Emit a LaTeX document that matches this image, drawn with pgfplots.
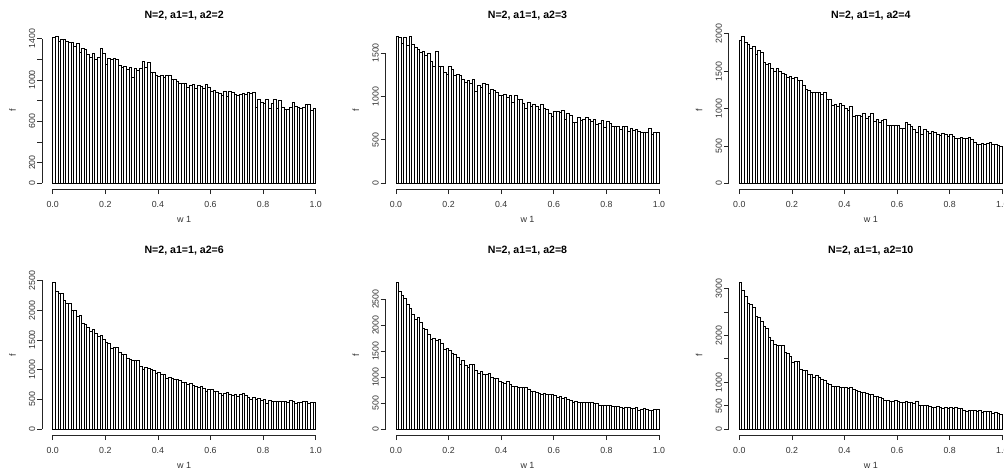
\documentclass[border=0pt]{standalone}
\usepackage{fontspec}
\setmainfont{Liberation Sans}
\usepackage{pgfplots}
\pgfplotsset{compat=1.18}

\pgfplotsset{
  rhist/.style={
    scale only axis, width=284pt, height=158.6pt,
    xmin=-0.04, xmax=1.04,
    axis line style={draw=none},
    tick align=outside, major tick length=5pt,
    xtick pos=left, ytick pos=left,
    tick style={black!85, line width=0.8pt},
    xtick={0,0.2,0.4,0.6,0.8,1},
    xticklabels={0.0,0.2,0.4,0.6,0.8,1.0},
    ticklabel style={font=\fontsize{8.8}{10}\selectfont, text=black!80},
    xticklabel style={anchor=north, inner sep=6.7pt},
    yticklabel style={rotate=90, anchor=south, inner sep=1.7pt},
    xlabel={w 1}, ylabel={f},
    label style={font=\fontsize{9}{10}\selectfont, text=black!80},
    xlabel style={at={(axis description cs:0.5,0)}, anchor=base, yshift=-33.6pt},
    ylabel style={at={([xshift=-26.4pt]axis description cs:0,0.5)}, anchor=base},
    title style={font=\fontsize{10.6}{12}\selectfont\bfseries, at={(axis description cs:0.5,1)}, anchor=base},
    clip=false,
  },
  bars/.style={ybar interval, fill=white, draw=black, line width=0.95pt},
}
\tikzset{rline/.style={black!85, line width=0.8pt}}

\begin{document}
\begin{tikzpicture}
\path[use as bounding box] (0,0) rectangle (1004pt,475pt);

% ---------- Panel 1 ----------
\begin{axis}[rhist, at={(42.2pt,285.8pt)}, anchor=south west,
  ymin=-56.8, ymax=1476.8,
  ytick={0,200,400,600,800,1000,1200,1400},
  yticklabels={0,200,,600,,1000,,1400},
  title={N=2, a1=1, a2=2}, title style={yshift=6.6pt}]
\addplot[bars] coordinates {
(0.00,1410)(0.01,1420)(0.02,1370)(0.03,1390)(0.04,1390)(0.05,1370)(0.06,1365)(0.07,1360)(0.08,1325)(0.09,1350)
(0.10,1270)(0.11,1300)(0.12,1295)(0.13,1245)(0.14,1215)(0.15,1255)(0.16,1200)(0.17,1215)(0.18,1305)(0.19,1255)
(0.20,1150)(0.21,1205)(0.22,1195)(0.23,1205)(0.24,1195)(0.25,1140)(0.26,1125)(0.27,1130)(0.28,1100)(0.29,1125)
(0.30,1025)(0.31,1110)(0.32,1095)(0.33,1110)(0.34,1175)(0.35,1125)(0.36,1170)(0.37,1075)(0.38,1070)(0.39,1040)
(0.40,1035)(0.41,1045)(0.42,1020)(0.43,1045)(0.44,1040)(0.45,1000)(0.46,1005)(0.47,985)(0.48,970)(0.49,965)
(0.50,965)(0.51,925)(0.52,945)(0.53,955)(0.54,920)(0.55,945)(0.56,935)(0.57,920)(0.58,955)(0.59,925)
(0.60,885)(0.61,900)(0.62,875)(0.63,865)(0.64,845)(0.65,885)(0.66,840)(0.67,885)(0.68,875)(0.69,860)
(0.70,845)(0.71,860)(0.72,865)(0.73,855)(0.74,875)(0.75,870)(0.76,880)(0.77,735)(0.78,810)(0.79,780)
(0.80,770)(0.81,810)(0.82,725)(0.83,770)(0.84,815)(0.85,725)(0.86,805)(0.87,730)(0.88,710)(0.89,715)
(0.90,730)(0.91,780)(0.92,745)(0.93,735)(0.94,725)(0.95,735)(0.96,760)(0.97,760)(0.98,705)(0.99,720)
(1.00,720)};
\draw[rline] (axis cs:0,-56.8) -- (axis cs:1,-56.8);
\draw[rline] (axis cs:-0.04,0) -- (axis cs:-0.04,1400);
\end{axis}

% ---------- Panel 2 ----------
\begin{axis}[rhist, at={(385.5pt,285.8pt)}, anchor=south west,
  ymin=-67.6, ymax=1757.6,
  ytick={0,500,1000,1500},
  yticklabels={0,500,1000,1500},
  title={N=2, a1=1, a2=3}, title style={yshift=6.6pt}]
\addplot[bars] coordinates {
(0.00,1685)(0.01,1675)(0.02,1610)(0.03,1675)(0.04,1590)(0.05,1690)(0.06,1600)(0.07,1560)(0.08,1540)(0.09,1510)
(0.10,1520)(0.11,1470)(0.12,1490)(0.13,1400)(0.14,1340)(0.15,1520)(0.16,1340)(0.17,1340)(0.18,1280)(0.19,1250)
(0.20,1350)(0.21,1310)(0.22,1240)(0.23,1250)(0.24,1240)(0.25,1200)(0.26,1160)(0.27,1180)(0.28,1150)(0.29,1190)
(0.30,1060)(0.31,1130)(0.32,1100)(0.33,1150)(0.34,1140)(0.35,1030)(0.36,1080)(0.37,1070)(0.38,1040)(0.39,1010)
(0.40,1010)(0.41,1020)(0.42,990)(0.43,1010)(0.44,930)(0.45,1010)(0.46,960)(0.47,970)(0.48,920)(0.49,860)
(0.50,930)(0.51,880)(0.52,910)(0.53,880)(0.54,850)(0.55,910)(0.56,860)(0.57,850)(0.58,800)(0.59,770)
(0.60,830)(0.61,830)(0.62,810)(0.63,840)(0.64,730)(0.65,800)(0.66,780)(0.67,700)(0.68,700)(0.69,760)
(0.70,720)(0.71,740)(0.72,760)(0.73,740)(0.74,710)(0.75,730)(0.76,680)(0.77,690)(0.78,720)(0.79,640)
(0.80,710)(0.81,690)(0.82,660)(0.83,660)(0.84,660)(0.85,620)(0.86,650)(0.87,660)(0.88,600)(0.89,630)
(0.90,610)(0.91,620)(0.92,600)(0.93,580)(0.94,580)(0.95,580)(0.96,630)(0.97,560)(0.98,580)(0.99,580)
(1.00,580)};
\draw[rline] (axis cs:0,-67.6) -- (axis cs:1,-67.6);
\draw[rline] (axis cs:-0.04,0) -- (axis cs:-0.04,1500);
\end{axis}

% ---------- Panel 3 ----------
\begin{axis}[rhist, at={(728.8pt,285.8pt)}, anchor=south west,
  ymin=-78.6, ymax=2043.6,
  ytick={0,500,1000,1500,2000},
  yticklabels={0,500,1000,1500,2000},
  title={N=2, a1=1, a2=4}, title style={yshift=6.6pt}]
\addplot[bars] coordinates {
(0.00,1910)(0.01,1965)(0.02,1885)(0.03,1860)(0.04,1810)(0.05,1830)(0.06,1720)(0.07,1780)(0.08,1750)(0.09,1620)
(0.10,1590)(0.11,1600)(0.12,1540)(0.13,1500)(0.14,1540)(0.15,1500)(0.16,1470)(0.17,1450)(0.18,1420)(0.19,1430)
(0.20,1400)(0.21,1420)(0.22,1380)(0.23,1370)(0.24,1310)(0.25,1250)(0.26,1240)(0.27,1220)(0.28,1220)(0.29,1220)
(0.30,1210)(0.31,1190)(0.32,1210)(0.33,1120)(0.34,1120)(0.35,1040)(0.36,1050)(0.37,1030)(0.38,1065)(0.39,1040)
(0.40,1000)(0.41,980)(0.42,1025)(0.43,900)(0.44,910)(0.45,910)(0.46,900)(0.47,935)(0.48,870)(0.49,890)
(0.50,940)(0.51,830)(0.52,850)(0.53,810)(0.54,840)(0.55,850)(0.56,780)(0.57,780)(0.58,770)(0.59,780)
(0.60,780)(0.61,740)(0.62,730)(0.63,820)(0.64,790)(0.65,760)(0.66,720)(0.67,680)(0.68,760)(0.69,660)
(0.70,720)(0.71,700)(0.72,670)(0.73,700)(0.74,680)(0.75,660)(0.76,640)(0.77,670)(0.78,660)(0.79,630)
(0.80,650)(0.81,630)(0.82,600)(0.83,600)(0.84,610)(0.85,600)(0.86,600)(0.87,610)(0.88,590)(0.89,550)
(0.90,520)(0.91,520)(0.92,530)(0.93,520)(0.94,530)(0.95,540)(0.96,520)(0.97,520)(0.98,510)(0.99,490)
(1.00,490)};
\draw[rline] (axis cs:0,-78.6) -- (axis cs:1,-78.6);
\draw[rline] (axis cs:-0.04,0) -- (axis cs:-0.04,2000);
\end{axis}

% ---------- Panel 4 ----------
\begin{axis}[rhist, at={(42.2pt,40pt)}, anchor=south west,
  ymin=-98.8, ymax=2568.8,
  ytick={0,500,1000,1500,2000,2500},
  yticklabels={0,500,1000,1500,2000,2500},
  title={N=2, a1=1, a2=6}, title style={yshift=16.8pt}]
\addplot[bars] coordinates {
(0.00,2470)(0.01,2320)(0.02,2280)(0.03,2290)(0.04,2160)(0.05,2110)(0.06,2110)(0.07,1990)(0.08,1990)(0.09,1900)
(0.10,1910)(0.11,1770)(0.12,1760)(0.13,1710)(0.14,1640)(0.15,1680)(0.16,1610)(0.17,1550)(0.18,1580)(0.19,1500)
(0.20,1460)(0.21,1440)(0.22,1360)(0.23,1370)(0.24,1380)(0.25,1290)(0.26,1250)(0.27,1260)(0.28,1180)(0.29,1170)
(0.30,1150)(0.31,1150)(0.32,1150)(0.33,1060)(0.34,1000)(0.35,1030)(0.36,1020)(0.37,1000)(0.38,990)(0.39,940)
(0.40,960)(0.41,920)(0.42,920)(0.43,860)(0.44,870)(0.45,860)(0.46,830)(0.47,840)(0.48,820)(0.49,780)
(0.50,790)(0.51,750)(0.52,760)(0.53,740)(0.54,720)(0.55,700)(0.56,710)(0.57,680)(0.58,640)(0.59,670)
(0.60,660)(0.61,630)(0.62,630)(0.63,600)(0.64,560)(0.65,600)(0.66,620)(0.67,590)(0.68,560)(0.69,590)
(0.70,550)(0.71,580)(0.72,600)(0.73,570)(0.74,530)(0.75,500)(0.76,540)(0.77,500)(0.78,510)(0.79,490)
(0.80,500)(0.81,430)(0.82,480)(0.83,470)(0.84,460)(0.85,460)(0.86,460)(0.87,460)(0.88,470)(0.89,450)
(0.90,480)(0.91,460)(0.92,430)(0.93,440)(0.94,450)(0.95,460)(0.96,470)(0.97,430)(0.98,440)(0.99,450)
(1.00,450)};
\draw[rline] (axis cs:0,-98.8) -- (axis cs:1,-98.8);
\draw[rline] (axis cs:-0.04,0) -- (axis cs:-0.04,2500);
\end{axis}

% ---------- Panel 5 ----------
\begin{axis}[rhist, at={(385.5pt,40pt)}, anchor=south west,
  ymin=-113, ymax=2938,
  ytick={0,500,1000,1500,2000,2500},
  yticklabels={0,500,1000,1500,2000,2500},
  title={N=2, a1=1, a2=8}, title style={yshift=16.8pt}]
\addplot[bars] coordinates {
(0.00,2825)(0.01,2650)(0.02,2580)(0.03,2520)(0.04,2390)(0.05,2330)(0.06,2210)(0.07,2100)(0.08,2140)(0.09,2060)
(0.10,1930)(0.11,1910)(0.12,1830)(0.13,1720)(0.14,1750)(0.15,1700)(0.16,1720)(0.17,1650)(0.18,1540)(0.19,1560)
(0.20,1520)(0.21,1460)(0.22,1440)(0.23,1370)(0.24,1240)(0.25,1320)(0.26,1220)(0.27,1190)(0.28,1250)(0.29,1240)
(0.30,1120)(0.31,1080)(0.32,1100)(0.33,1060)(0.34,1060)(0.35,1070)(0.36,1000)(0.37,970)(0.38,975)(0.39,920)
(0.40,905)(0.41,880)(0.42,920)(0.43,850)(0.44,820)(0.45,830)(0.46,810)(0.47,800)(0.48,800)(0.49,810)
(0.50,760)(0.51,730)(0.52,730)(0.53,700)(0.54,680)(0.55,660)(0.56,690)(0.57,670)(0.58,660)(0.59,660)
(0.60,650)(0.61,610)(0.62,620)(0.63,590)(0.64,610)(0.65,570)(0.66,560)(0.67,520)(0.68,540)(0.69,510)
(0.70,510)(0.71,510)(0.72,520)(0.73,520)(0.74,510)(0.75,490)(0.76,500)(0.77,460)(0.78,460)(0.79,460)
(0.80,460)(0.81,460)(0.82,440)(0.83,440)(0.84,440)(0.85,420)(0.86,400)(0.87,420)(0.88,410)(0.89,400)
(0.90,390)(0.91,410)(0.92,360)(0.93,370)(0.94,400)(0.95,380)(0.96,360)(0.97,350)(0.98,370)(0.99,380)
(1.00,380)};
\draw[rline] (axis cs:0,-113) -- (axis cs:1,-113);
\draw[rline] (axis cs:-0.04,0) -- (axis cs:-0.04,2500);
\end{axis}

% ---------- Panel 6 ----------
\begin{axis}[rhist, at={(728.8pt,40pt)}, anchor=south west,
  ymin=-125.4, ymax=3260.4,
  ytick={0,500,1000,1500,2000,2500,3000},
  yticklabels={0,500,1000,,2000,,3000},
  title={N=2, a1=1, a2=10}, title style={yshift=16.8pt}]
\addplot[bars] coordinates {
(0.00,3135)(0.01,2970)(0.02,2830)(0.03,2690)(0.04,2660)(0.05,2600)(0.06,2415)(0.07,2375)(0.08,2290)(0.09,2195)
(0.10,2140)(0.11,1960)(0.12,1890)(0.13,1800)(0.14,1790)(0.15,1790)(0.16,1780)(0.17,1640)(0.18,1625)(0.19,1560)
(0.20,1420)(0.21,1435)(0.22,1450)(0.23,1280)(0.24,1250)(0.25,1250)(0.26,1175)(0.27,1160)(0.28,1105)(0.29,1140)
(0.30,1110)(0.31,1050)(0.32,1030)(0.33,975)(0.34,960)(0.35,910)(0.36,905)(0.37,900)(0.38,880)(0.39,890)
(0.40,880)(0.41,870)(0.42,880)(0.43,840)(0.44,820)(0.45,800)(0.46,790)(0.47,780)(0.48,760)(0.49,740)
(0.50,750)(0.51,700)(0.52,690)(0.53,680)(0.54,660)(0.55,620)(0.56,620)(0.57,600)(0.58,600)(0.59,610)
(0.60,580)(0.61,570)(0.62,560)(0.63,590)(0.64,560)(0.65,560)(0.66,550)(0.67,590)(0.68,510)(0.69,500)
(0.70,500)(0.71,500)(0.72,480)(0.73,470)(0.74,470)(0.75,490)(0.76,460)(0.77,450)(0.78,460)(0.79,450)
(0.80,460)(0.81,450)(0.82,470)(0.83,450)(0.84,440)(0.85,390)(0.86,380)(0.87,390)(0.88,390)(0.89,400)
(0.90,370)(0.91,390)(0.92,350)(0.93,370)(0.94,370)(0.95,370)(0.96,340)(0.97,350)(0.98,330)(0.99,320)
(1.00,320)};
\draw[rline] (axis cs:0,-125.4) -- (axis cs:1,-125.4);
\draw[rline] (axis cs:-0.04,0) -- (axis cs:-0.04,3000);
\end{axis}
\end{tikzpicture}
\end{document}
